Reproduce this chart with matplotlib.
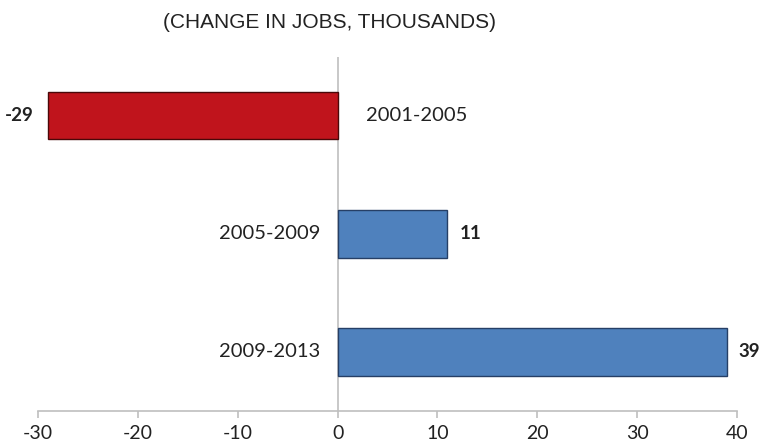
import matplotlib.pyplot as plt

plt.rcParams['font.family'] = ['Lato', 'DejaVu Sans']
plt.rcParams['axes.unicode_minus'] = False

# data
periods = ['2001-2005', '2005-2009', '2009-2013']
jobs = [-29, 11, 39]
bar_colors = ['#C0141C', '#4F81BD', '#4F81BD']
edge_colors = ['#4A0809', '#263F66', '#263F66']
x_ticks = [-30, -20, -10, 0, 10, 20, 30, 40]

fig = plt.figure(figsize=(7.62, 4.46), dpi=100)
ax = fig.add_axes([0.05, 0.0785, 0.917, 0.794])

pos = range(len(periods))
ax.barh(pos, jobs, height=0.4, color=bar_colors, edgecolor=edge_colors, linewidth=1.0, zorder=2)

ax.set_xlim(-30, 40)
ax.set_ylim(2.5, -0.5)

# category labels next to the zero line, value labels at bar ends
for i, (p, v) in enumerate(zip(periods, jobs)):
    if v < 0:
        ax.text(2.8, i, p, ha='left', va='center', fontsize=14.5, color='#222222')
        ax.text(v - 1.4, i, str(v), ha='right', va='center', fontsize=13.5,
                fontweight='bold', color='#222222')
    else:
        ax.text(-1.7, i, p, ha='right', va='center', fontsize=14.5, color='#222222')
        ax.text(v + 1.2, i, str(v), ha='left', va='center', fontsize=13.5,
                fontweight='bold', color='#222222', clip_on=False)

ax.axvline(0, color='#BFBFBF', linewidth=1.2, zorder=1)

for s in ['top', 'right', 'left']:
    ax.spines[s].set_visible(False)
ax.spines['bottom'].set_color('#BFBFBF')
ax.spines['bottom'].set_linewidth(1.2)

ax.set_yticks([])
ax.set_xticks(x_ticks)
ax.tick_params(axis='x', colors='#BFBFBF', length=5, width=1.2, labelsize=14,
               labelcolor='#222222', pad=5)

fig.text(0.433, 0.95, '(CHANGE IN JOBS, THOUSANDS)', ha='center', va='center',
         fontsize=15, family='Liberation Sans', color='#222222')

fig.savefig('out.png', dpi=100)
